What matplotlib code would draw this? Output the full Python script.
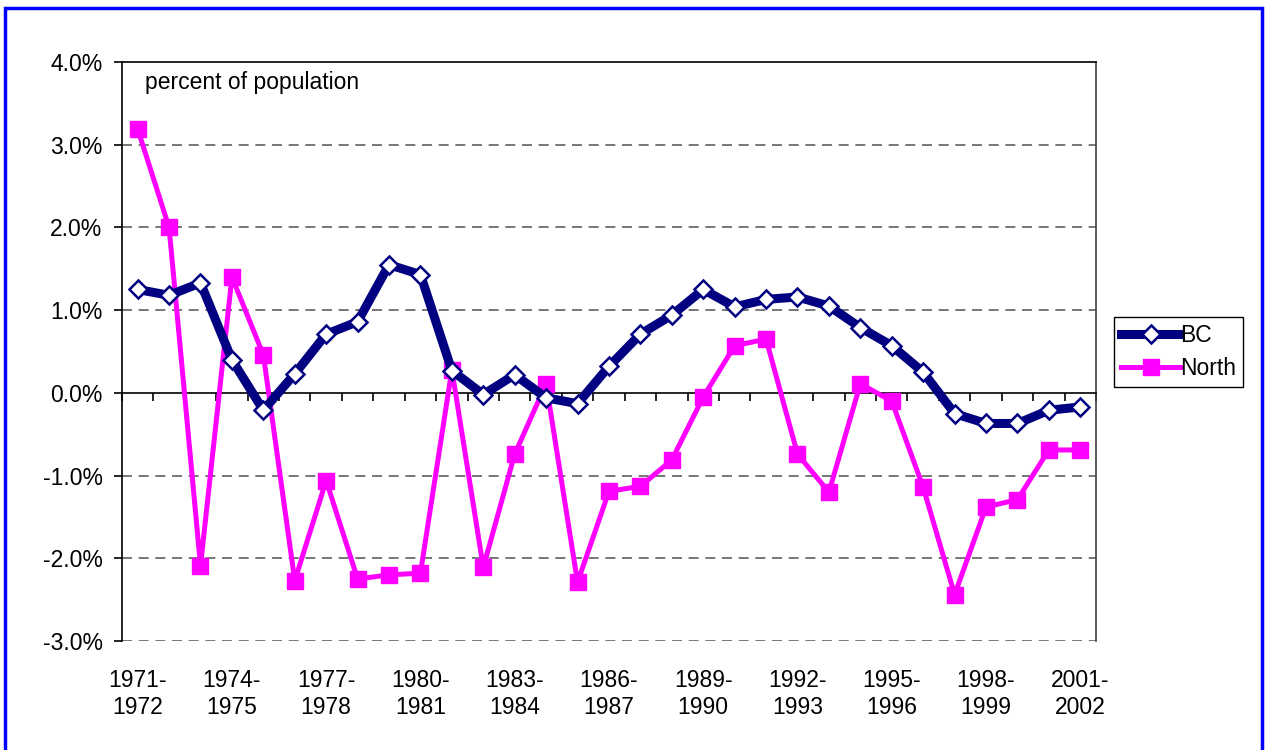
"""

	plot.py: 

		Net migration as percent of population, BC vs North, 1971-1972 to 2001-2002. 

"""

import numpy as np; 
import matplotlib; 
matplotlib.use("Agg"); 
import matplotlib.pyplot as plt; 
from matplotlib.patches import Rectangle; 
from matplotlib.ticker import FuncFormatter; 


## Data (percent of population): 
years = list(range(1971, 2002)); 
periods = [str(y) + "-\n" + str(y+1) for y in years]; 

bc = [1.25, 1.18, 1.33, 0.40, -0.21, 0.23, 0.71, 0.86, 1.55, 1.43, 
	0.27, -0.02, 0.22, -0.06, -0.13, 0.32, 0.71, 0.94, 1.25, 1.04, 
	1.13, 1.16, 1.05, 0.79, 0.57, 0.25, -0.25, -0.37, -0.37, -0.21, -0.17]; 
north = [3.19, 2.00, -2.09, 1.40, 0.46, -2.27, -1.06, -2.25, -2.20, -2.18, 
	0.28, -2.11, -0.74, 0.11, -2.29, -1.19, -1.13, -0.81, -0.05, 0.57, 
	0.65, -0.74, -1.20, 0.11, -0.10, -1.14, -2.44, -1.38, -1.29, -0.69, -0.69]; 

yTicks = [-3, -2, -1, 0, 1, 2, 3, 4]; 
labelEvery = 3; 		# Only every third period gets a label. 


## Style: 
plt.rcParams['font.family'] = ['Liberation Sans', 'DejaVu Sans']; 
plt.rcParams['font.size'] = 16.5; 

fig = plt.figure(figsize=(12.65, 7.5), dpi=100); 
ax = fig.add_axes([0.0964, 0.1453, 0.770, 0.772]); 

x = np.arange(len(years)); 

# Lines: 
ax.plot(x, bc, color="#000080", lw=6.5, marker="D", markersize=9.5, 
	markerfacecolor="white", markeredgecolor="#000080", markeredgewidth=1.8, 
	label="BC", zorder=4, solid_joinstyle="round"); 
ax.plot(x, north, color="#FF00FF", lw=3.6, marker="s", markersize=12, 
	markerfacecolor="#FF00FF", markeredgecolor="#FF00FF", 
	label="North", zorder=3); 

# Axes limits and grid: 
ax.set_xlim(-0.5, len(years)-0.5); 
ax.set_ylim(-3, 4); 
ax.set_yticks(yTicks); 
ax.yaxis.set_major_formatter(FuncFormatter(lambda v, p: "%.1f%%" % v)); 
for yy in yTicks[:-1]: 
	if yy != 0: 
		ax.axhline(yy, color="#606060", lw=1.2, ls=(0, (6, 4)), zorder=1); 

# Spines: 
ax.spines['bottom'].set_position(('data', 0)); 
ax.spines['bottom'].set_linewidth(1.2); 
ax.spines['left'].set_linewidth(1.2); 
ax.spines['top'].set_linewidth(1.2); 
ax.spines['right'].set_linewidth(1.2); 
ax.spines['right'].set_color("#404040"); 

# Category boundary ticks on the zero line: 
ax.set_xticks(np.arange(-0.5, len(years), 1.0)); 
ax.set_xticklabels([]); 
ax.tick_params(axis='x', direction='out', length=6, width=1.2); 
ax.tick_params(axis='y', direction='out', length=6, width=1.2, pad=8); 

# Period labels at the bottom of the plot area: 
secAx = ax.secondary_xaxis(0); 
secAx.set_xticks(x[::labelEvery]); 
secAx.set_xticklabels(periods[::labelEvery], linespacing=1.25); 
secAx.tick_params(length=0, pad=20); 
secAx.spines['bottom'].set_visible(False); 

# Units note: 
ax.text(0.0236, 0.9655, "percent of population", transform=ax.transAxes, 
	ha="left", va="center", fontsize=16.5); 

# Legend: 
leg = fig.legend(loc="center left", bbox_to_anchor=(0.877, 0.531), 
	fancybox=False, edgecolor="black", handlelength=2.6, 
	borderpad=0.3, labelspacing=0.45, handletextpad=0.0, framealpha=1, 
	borderaxespad=0.2); 
leg.get_frame().set_linewidth(1.0); 

# Blue frame round the chart: 
fig.patches.append(Rectangle((0.0036, -0.05), 0.9940, 1.039, 
	transform=fig.transFigure, fill=False, edgecolor="#0000FF", lw=2.5)); 

fig.savefig("out.png", dpi=100);
